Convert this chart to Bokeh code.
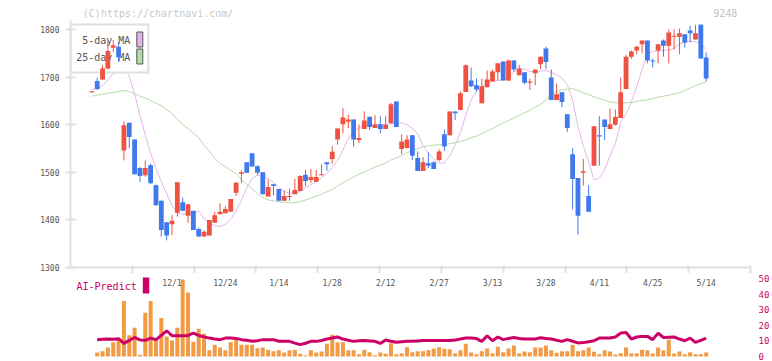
import numpy as np
from bokeh.plotting import figure
from bokeh.models import Range1d, FixedTicker, ColumnDataSource
from bokeh.layouts import column
from bokeh.embed import file_html
from bokeh.resources import INLINE
from bokeh.core.properties import value

# ---------------- data ----------------
opens = [1668,1692,1695,1718,1762,1764,1546,1604,1569,1509,
         1494,1515,1473,1440,1395,1391,1415,1437,1409,1419,
         1381,1365,1367,1394,1412,1414,1417,1457,1497,1521,
         1540,1513,1500,1449,1475,1465,1440,1448,1454,1461,
         1495,1484,1480,1494,1521,1528,1569,1601,1606,1611,
         1568,1591,1617,1593,1601,1591,1603,1649,1549,1551,
         1578,1530,1503,1519,1521,1526,1580,1578,1628,1631,
         1669,1693,1683,1645,1679,1691,1710,1733,1693,1735,
         1704,1710,1688,1708,1727,1760,1699,1652,1668,1622,
         1538,1488,1499,1450,1514,1578,1611,1591,1600,1614,
         1675,1743,1756,1769,1777,1735,1756,1777,1766,1785,
         1785,1790,1798,1779,1810,1741]
closes = [1668,1675,1718,1755,1767,1742,1599,1574,1496,1492,
          1509,1477,1431,1379,1367,1398,1479,1419,1433,1379,
          1365,1375,1400,1410,1417,1423,1444,1478,1500,1499,
          1512,1499,1454,1469,1471,1440,1450,1450,1463,1492,
          1482,1490,1490,1496,1517,1543,1592,1615,1611,1569,
          1572,1609,1595,1601,1591,1600,1643,1595,1565,1569,
          1535,1503,1521,1514,1507,1544,1554,1628,1624,1666,
          1725,1681,1674,1681,1695,1712,1729,1693,1735,1716,
          1718,1688,1691,1716,1743,1732,1652,1664,1648,1593,
          1486,1409,1502,1417,1597,1575,1595,1601,1616,1668,
          1743,1754,1764,1777,1735,1733,1769,1766,1794,1787,
          1792,1773,1792,1792,1739,1697]
highs = [1669,1699,1725,1776,1778,1774,1607,1604,1569,1511,
         1525,1518,1474,1441,1395,1410,1479,1447,1433,1419,
         1384,1378,1400,1417,1435,1429,1444,1480,1504,1521,
         1540,1515,1500,1485,1475,1465,1462,1466,1486,1494,
         1505,1507,1505,1517,1521,1555,1592,1635,1621,1611,
         1601,1628,1617,1620,1618,1618,1646,1649,1580,1578,
         1578,1544,1532,1542,1523,1548,1590,1628,1628,1670,
         1727,1720,1697,1697,1714,1716,1729,1733,1737,1735,
         1726,1710,1697,1716,1743,1764,1716,1687,1668,1622,
         1551,1488,1528,1473,1597,1618,1611,1634,1632,1699,
         1747,1756,1766,1777,1777,1739,1769,1779,1800,1800,
         1802,1790,1808,1810,1812,1752]
lows = [1667,1673,1694,1716,1753,1732,1525,1551,1496,1480,
        1491,1476,1430,1365,1357,1368,1407,1419,1394,1379,
        1364,1364,1367,1394,1412,1414,1417,1450,1478,1499,
        1512,1494,1454,1449,1452,1440,1440,1440,1454,1461,
        1471,1478,1480,1494,1503,1518,1558,1582,1593,1554,
        1561,1591,1589,1593,1582,1591,1603,1595,1538,1551,
        1526,1503,1503,1509,1507,1523,1545,1577,1610,1631,
        1669,1679,1669,1645,1679,1691,1693,1693,1692,1711,
        1704,1685,1673,1683,1717,1717,1652,1652,1637,1585,
        1422,1369,1472,1417,1514,1514,1568,1591,1598,1614,
        1675,1739,1748,1750,1729,1720,1729,1743,1729,1758,
        1748,1762,1773,1779,1739,1691]
ma5 = [1674,1676,1682,1694,1708,1728,1722,1702,1665,1620,
       1578,1540,1508,1480,1455,1430,1416,1412,1412,1414,
       1419,1402,1394,1388,1386,1391,1402,1418,1441,1468,
       1487,1494,1491,1486,1479,1468,1460,1456,1456,1460,
       1467,1474,1480,1489,1498,1510,1525,1547,1571,1585,
       1594,1597,1598,1599,1600,1601,1602,1603,1604,1600,
       1592,1580,1556,1540,1528,1519,1520,1535,1557,1584,
       1620,1652,1671,1680,1687,1691,1693,1695,1698,1710,
       1717,1717,1712,1711,1713,1714,1710,1705,1698,1684,
       1652,1596,1556,1522,1484,1488,1505,1535,1560,1605,
       1622,1648,1680,1716,1748,1754,1755,1756,1757,1761,
       1770,1773,1776,1774,1770,1758]
ma25 = [1660,1662,1664,1666,1668,1670,1672,1670,1665,1660,
        1656,1651,1645,1640,1632,1624,1611,1601,1592,1582,
        1573,1557,1545,1530,1518,1512,1504,1497,1485,1475,
        1465,1455,1447,1442,1440,1438,1437,1436,1436,1438,
        1442,1446,1450,1454,1459,1464,1471,1478,1484,1490,
        1496,1500,1506,1511,1515,1520,1526,1530,1535,1541,
        1546,1550,1554,1556,1557,1558,1559,1560,1562,1565,
        1568,1573,1576,1581,1587,1592,1598,1604,1609,1614,
        1619,1625,1630,1637,1643,1652,1664,1670,1673,1675,
        1676,1672,1667,1663,1659,1655,1651,1648,1646,1646,
        1646,1647,1649,1651,1652,1655,1658,1660,1662,1665,
        1667,1672,1677,1682,1686,1690]
date_labels = ["12/1", "12/24", "1/14", "1/28", "2/12", "2/27",
               "3/13", "3/28", "4/11", "4/25", "5/14"]
date_pos = [15, 25, 35, 45, 55, 65, 75, 85, 95, 105, 115]
price_ticks = [1300, 1400, 1500, 1600, 1700, 1800]
ai_ticks = [0, 10, 20, 30, 40, 50]
ai_bars = [2.5,3.4,5.7,9.1,11.2,35.6,13.7,18.4,1.1,28.0,
           35.6,11.2,24.6,12.9,10.3,18.4,49.4,41.1,9.5,17.8,
           14.6,4.0,7.6,5.7,4.0,9.1,11.2,7.6,7.6,7.6,
           5.3,5.7,4.4,3.4,4.0,2.5,4.0,4.4,1.7,0.6,
           4.0,2.5,3.2,8.2,13.9,9.1,9.1,4.0,4.0,1.5,
           4.4,2.7,0.8,2.5,1.7,8.5,1.5,2.1,5.9,2.7,
           3.4,3.4,4.2,5.1,5.9,4.9,4.6,2.1,4.0,8.2,
           2.5,1.5,3.4,5.1,2.1,6.3,2.7,5.1,7.0,2.1,
           3.2,2.7,5.7,5.7,7.0,4.0,2.4,3.4,3.4,7.6,
           3.4,4.0,5.7,3.0,1.5,4.0,3.2,1.3,2.1,5.7,
           2.1,2.1,4.4,4.0,1.9,5.7,4.0,10.8,1.9,3.2,
           1.5,2.7,1.5,1.5,2.5]
ai_line = [10.8,11.0,11.2,11.0,11.4,8.4,10.3,12.2,10.6,10.4,
           11.8,10.8,13.5,16.5,13.3,13.3,13.3,13.5,15.0,13.5,
           12.6,11.8,11.2,10.8,11.8,11.8,11.6,10.8,10.4,9.8,
           10.1,10.8,10.8,10.8,9.8,9.7,9.7,8.6,7.6,8.5,
           9.7,9.7,10.3,11.2,11.8,12.5,11.2,10.4,9.7,10.1,
           10.3,10.0,9.7,8.4,10.6,9.8,9.1,9.5,9.7,9.7,
           10.0,10.3,10.3,10.3,10.3,10.3,10.3,10.5,11.2,11.8,
           11.8,11.5,9.7,13.3,10.1,12.5,10.8,11.6,12.2,11.6,
           11.2,11.2,11.2,12.0,11.6,11.2,10.4,9.7,10.8,9.8,
           8.7,8.9,9.5,10.1,11.8,11.8,11.8,12.5,15.0,15.4,
           11.2,12.5,12.9,12.9,10.8,15.0,12.2,12.4,12.5,11.2,
           10.1,11.8,9.1,10.3,11.8]

# ---------------- styling / layout ----------------
UP, DOWN = "#ef5241", "#4079ec"
PINK, GREEN = "#e6b4ec", "#b4dca8"
CRIMSON, ORANGE = "#cc0066", "#f39a45"
AXIS_C, TXT_C = "#e0e0e0", "#555555"
MONO = "DejaVu Sans Mono"

W = 772
FL, FW = 70, 682                  # frame left border / frame width
HDR = 20                          # header strip height (page y 0..20)
A_TOP, A_FH, A_BOT = 20, 247, 6   # figure A frame page top / frame height / bottom border
B_TOP, B_FH, B_BOT = 273, 85, 3   # figure B (page top, frame h, bottom border)
X_LO, X_HI = -4.0, 123.3
Y_LO, Y_HI = 1300, 1819
BY_LO, BY_HI = -1.28, 53.2

def ax(px):   # page px -> data x
    return X_LO + (px - FL) * (X_HI - X_LO) / FW
def ay(py):   # page px -> data y (figure A)
    return Y_HI - (py - A_TOP) * (Y_HI - Y_LO) / A_FH
def by(py):   # page px -> data y (figure B)
    return BY_HI - (py - B_TOP) * (BY_HI - BY_LO) / B_FH

n = len(opens)
idx = np.arange(n)
up = [c >= o for o, c in zip(opens, closes)]
btop = [max(o, c) for o, c in zip(opens, closes)]
bbot = [min(o, c) for o, c in zip(opens, closes)]
btop = [t if t - b >= 2.2 else b + 2.2 for t, b in zip(btop, bbot)]
src = ColumnDataSource(dict(x=idx, o=opens, h=highs, l=lows, c=closes,
                            top=btop, bot=bbot,
                            col=[UP if u else DOWN for u in up]))

def bare(fig):
    fig.outline_line_color = None
    fig.grid.visible = False
    fig.background_fill_color = "white"
    fig.border_fill_color = "white"

# ---------------- header strip (watermark + code) ----------------
h = figure(width=W, height=HDR, output_backend="svg", toolbar_location=None,
           x_range=Range1d(0, W), y_range=Range1d(HDR, 0),
           x_axis_location=None, y_axis_location=None,
           min_border_left=0, min_border_right=0, min_border_top=0, min_border_bottom=0)
bare(h)
h.text(x=[14], y=[12.5], text=["(C)https://chartnavi.com/"], text_baseline="middle",
       text_font=value(MONO), text_font_size="10px", text_color="#c8c8c8")
h.text(x=[757], y=[12], text=["9248"], text_align="right", text_baseline="middle",
       text_font=value(MONO), text_font_size="10px", text_color="#c0c0c0")

# ---------------- figure A: price ----------------
p = figure(width=W, height=A_FH + A_BOT, output_backend="svg",
           toolbar_location=None, x_range=Range1d(X_LO, X_HI),
           y_range=Range1d(Y_LO, Y_HI),
           min_border_left=FL, min_border_right=W - FL - FW,
           min_border_top=0, min_border_bottom=A_BOT)
bare(p)

p.yaxis.ticker = FixedTicker(ticks=price_ticks)
# x axis: only unlabeled tick marks on a regular 62px grid
p.xaxis.ticker = FixedTicker(ticks=[], minor_ticks=[ax(FL + 62 * k) for k in range(1, 12)])
for a in (p.xaxis[0], p.yaxis[0]):
    a.axis_line_color = AXIS_C
    a.axis_line_width = 2
    a.major_tick_line_color = AXIS_C
    a.major_tick_line_width = 2
p.yaxis.minor_tick_line_color = None
p.yaxis.major_tick_in = 5
p.yaxis.major_tick_out = 5
p.yaxis.major_label_standoff = 6
p.yaxis.major_label_text_font = MONO
p.yaxis.major_label_text_font_size = "8px"
p.yaxis.major_label_text_color = TXT_C
p.xaxis.minor_tick_line_color = AXIS_C
p.xaxis.minor_tick_line_width = 2
p.xaxis.minor_tick_in = 2
p.xaxis.minor_tick_out = 6
p.xaxis.major_label_standoff = 0

# moving averages
p.line(idx, ma5, line_color=PINK, line_width=1)
p.line(idx, ma25, line_color=GREEN, line_width=1)

# legend box (drawn above the MA lines, below the candles)
p.quad(left=[ax(70)], right=[ax(148)], top=[ay(24)], bottom=[ay(72)],
       fill_color="white", line_color=AXIS_C, line_width=2)
p.text(x=[ax(130), ax(130)], y=[ay(40), ay(57)], text=["5-day MA", "25-day MA"],
       text_align="right", text_baseline="middle", text_font=value(MONO),
       text_font_size="10px", text_color=TXT_C)
p.quad(left=[ax(136.5)] * 2, right=[ax(142.5)] * 2,
       top=[ay(31.5), ay(48.5)], bottom=[ay(46.5), ay(63.5)],
       fill_color=[PINK, GREEN], line_color="#555555", line_width=1)

# candles
p.segment(x0="x", y0="l", x1="x", y1="h", line_color="col", line_width=1, source=src)
p.vbar(x="x", width=0.9, top="top", bottom="bot", fill_color="col",
       line_color=None, source=src)

# ---------------- figure B: AI-Predict ----------------
q = figure(width=W, height=B_FH + B_BOT, output_backend="svg",
           toolbar_location=None, x_range=Range1d(X_LO, X_HI),
           y_range=Range1d(BY_LO, BY_HI), x_axis_location=None,
           y_axis_location="right",
           min_border_left=FL, min_border_right=W - FL - FW,
           min_border_top=0, min_border_bottom=B_BOT)
bare(q)
q.yaxis.ticker = FixedTicker(ticks=ai_ticks)
q.yaxis.axis_line_color = None
q.yaxis.major_tick_line_color = None
q.yaxis.minor_tick_line_color = None
q.yaxis.major_label_standoff = 2
q.yaxis.major_label_text_font = MONO
q.yaxis.major_label_text_font_size = "9px"
q.yaxis.major_label_text_line_height = 1.0
q.yaxis.major_label_text_color = CRIMSON

bx = np.arange(1, len(ai_bars) + 1)
q.vbar(x=bx, top=ai_bars, bottom=0, width=0.75, fill_color=ORANGE, line_color=None)
q.line(bx, ai_line, line_color=CRIMSON, line_width=3)

q.text(x=date_pos, y=[by(283)] * len(date_pos), text=date_labels,
       text_align="center", text_baseline="middle", text_font=value(MONO),
       text_font_size="8px", text_color=TXT_C)
q.text(x=[ax(76)], y=[by(286)], text=["AI-Predict"], text_baseline="middle",
       text_font=value(MONO), text_font_size="10px", text_color=CRIMSON)
q.quad(left=[ax(142.5)], right=[ax(149)], top=[by(277)], bottom=[by(293)],
       fill_color=CRIMSON, line_color=None)

layout = column(h, p, q, spacing=0)
open("out.html", "w").write(file_html(layout, INLINE))
